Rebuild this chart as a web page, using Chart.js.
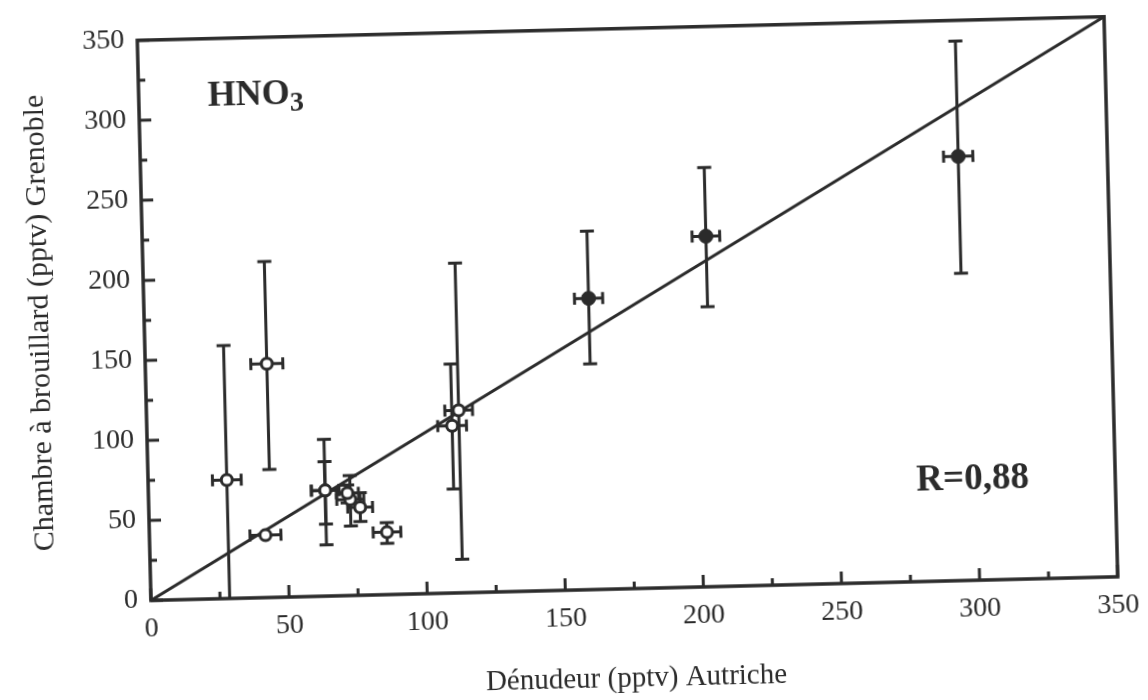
<!DOCTYPE html>
<html>
<head>
<meta charset="utf-8">
<script src="https://cdn.jsdelivr.net/npm/chart.js@4.4.1/dist/chart.umd.min.js"></script>
<style>
  html, body { margin: 0; padding: 0; background: #fff; }
  /* the scanned figure sits slightly tilted on the page */
  #wrap { width: 1148px; height: 700px; transform: rotate(-1.4deg); transform-origin: 50% 50%; }
</style>
</head>
<body>
<div id="wrap"><canvas id="chart" width="1148" height="700"></canvas></div>
<script>
// open circles: x, y, horizontal error (±), vertical error bar ends
const openX     = [28.5, 44, 42, 64, 64, 73, 76.5, 72, 86, 110.5, 113];
const openY     = [74, 146, 39, 66, 66, 60, 55, 64, 39, 104.5, 114];
const openXErr  = [5.2, 5.8, 5.6, 5, 5, 4.9, 4.5, 4, 5, 5.2, 5];
const openYLow  = [-10, 80, null, 32, 45, 43.5, 46, 58, 32, 65, 21];
const openYHigh = [158, 210, null, 98, 84, 75, 64, 69, 45, 143, 206];

// filled circles
const fullX     = [161, 204, 296];
const fullY     = [182, 219, 265];
const fullXErr  = [5.1, 5, 5.3];
const fullYLow  = [141, 175, 192];
const fullYHigh = [224, 262, 337];

// 1:1 line
const lineX = [0, 350];
const lineY = [0, 350];

const majorTicks = [0, 50, 100, 150, 200, 250, 300, 350];
const minorTicks = [25, 75, 125, 175, 225, 275, 325];

const ink = '#2b2b2b';
const serif = '"Liberation Serif", "Times New Roman", serif';

const toPoints = (xs, ys) => xs.map((v, i) => ({ x: v, y: ys[i] }));

const errorBars = {
  id: 'errorBars',
  beforeDatasetsDraw(chart) {
    const { ctx, chartArea, scales: { x, y } } = chart;
    ctx.save();
    ctx.beginPath();
    ctx.rect(chartArea.left, chartArea.top, chartArea.width, chartArea.height);
    ctx.clip();
    ctx.strokeStyle = ink;
    ctx.lineWidth = 3;
    const draw = (xs, ys, xe, lo, hi) => {
      xs.forEach((xv, i) => {
        const px = x.getPixelForValue(xv);
        const py = y.getPixelForValue(ys[i]);
        ctx.beginPath();
        if (lo[i] !== null) {
          const t = y.getPixelForValue(hi[i]);
          const b = y.getPixelForValue(lo[i]);
          ctx.moveTo(px, t); ctx.lineTo(px, b);
          ctx.moveTo(px - 7, t); ctx.lineTo(px + 7, t);
          ctx.moveTo(px - 7, b); ctx.lineTo(px + 7, b);
        }
        const l = x.getPixelForValue(xv - xe[i]);
        const r = x.getPixelForValue(xv + xe[i]);
        ctx.moveTo(l, py); ctx.lineTo(r, py);
        ctx.moveTo(l, py - 6); ctx.lineTo(l, py + 6);
        ctx.moveTo(r, py - 6); ctx.lineTo(r, py + 6);
        ctx.stroke();
      });
    };
    draw(openX, openY, openXErr, openYLow, openYHigh);
    draw(fullX, fullY, fullXErr, fullYLow, fullYHigh);
    ctx.restore();
  },
  afterDraw(chart) {
    const { ctx, chartArea: a, scales: { x, y } } = chart;
    ctx.save();
    ctx.strokeStyle = ink;
    // frame
    ctx.lineWidth = 3.5;
    ctx.strokeRect(a.left, a.top, a.width, a.height);
    // inward ticks
    ctx.lineWidth = 3;
    ctx.beginPath();
    const tick = (v, len) => {
      const px = x.getPixelForValue(v);
      ctx.moveTo(px, a.bottom); ctx.lineTo(px, a.bottom - len);
      const py = y.getPixelForValue(v);
      ctx.moveTo(a.left, py); ctx.lineTo(a.left + len, py);
    };
    majorTicks.forEach(v => tick(v, 12));
    minorTicks.forEach(v => tick(v, 7));
    ctx.stroke();

    // labels inside the plot
    ctx.fillStyle = ink;
    ctx.textBaseline = 'alphabetic';
    ctx.textAlign = 'left';
    ctx.font = 'bold 36px ' + serif;
    const hx = x.getPixelForValue(25), hy = y.getPixelForValue(308);
    ctx.fillText('HNO', hx, hy);
    const w = ctx.measureText('HNO').width;
    ctx.font = 'bold 28px ' + serif;
    ctx.fillText('3', hx + w, hy + 7);
    ctx.font = 'bold 37px ' + serif;
    ctx.fillText('R=0,88', x.getPixelForValue(278), y.getPixelForValue(57));
    ctx.restore();
  }
};

new Chart(document.getElementById('chart'), {
  type: 'scatter',
  data: {
    datasets: [
      {
        data: toPoints(fullX, fullY),
        pointRadius: 7,
        pointBackgroundColor: ink,
        pointBorderColor: ink,
        pointBorderWidth: 1
      },
      {
        data: toPoints(openX, openY),
        pointRadius: 5.5,
        pointBackgroundColor: '#fff',
        pointBorderColor: ink,
        pointBorderWidth: 3
      },
      {
        type: 'line',
        data: toPoints(lineX, lineY),
        borderColor: ink,
        borderWidth: 3,
        pointRadius: 0,
        fill: false
      }
    ]
  },
  options: {
    responsive: false,
    animation: false,
    devicePixelRatio: 1,
    layout: { padding: { top: 26, right: 36, bottom: 0, left: 0 } },
    plugins: { legend: { display: false }, tooltip: { enabled: false } },
    scales: {
      x: {
        type: 'linear',
        min: 0,
        max: 350,
        grid: { display: false, drawTicks: false },
        border: { display: false },
        ticks: { stepSize: 50, padding: 12, maxRotation: 0, color: ink, font: { family: serif, size: 28 } },
        title: { display: true, text: 'Dénudeur (pptv) Autriche', color: ink, font: { family: serif, size: 29 }, padding: { top: 0, bottom: 2 } },
        afterFit: s => { s.height = 110; }
      },
      y: {
        type: 'linear',
        min: 0,
        max: 350,
        grid: { display: false, drawTicks: false },
        border: { display: false },
        ticks: { stepSize: 50, padding: 13, color: ink, font: { family: serif, size: 28 } },
        title: { display: true, text: 'Chambre à brouillard (pptv) Grenoble', color: ink, font: { family: serif, size: 30 }, padding: { top: 23, bottom: 0 } },
        afterFit: s => { s.width = 145; }
      }
    }
  },
  plugins: [errorBars]
});
</script>
</body>
</html>
